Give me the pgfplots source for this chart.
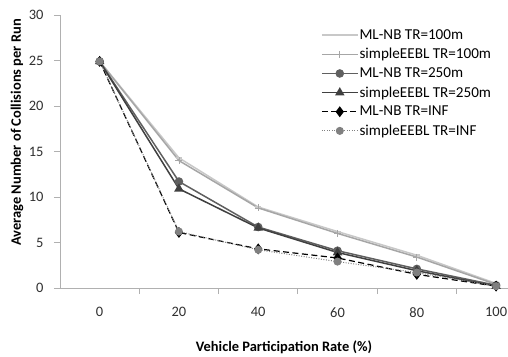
\documentclass[border=0pt]{standalone}
\usepackage{pgfplots}
\pgfplotsset{compat=1.18}
\usepackage{fontspec}
\setmainfont{Carlito}
\definecolor{cA}{HTML}{C8C8C8}
\definecolor{cB}{HTML}{A6A6A6}
\definecolor{cC}{HTML}{606060}
\definecolor{cD}{HTML}{404040}
\definecolor{cF}{HTML}{808080}
\definecolor{axc}{HTML}{B0B0B0}
\definecolor{txt}{HTML}{303030}
\begin{document}
\begin{tikzpicture}[x=1bp,y=1bp]
\begin{axis}[
  scale only axis,
  width=448bp, height=273bp,
  xmin=-0.5, xmax=5.15, ymin=0, ymax=30,
  axis x line=bottom, axis y line=left,
  axis line style={draw=axc, line width=0.8bp, -},
  xtick={0,1,2,3,4,5},
  xticklabels={0,20,40,60,80,100},
  minor xtick={0.5,1.5,2.5,3.5,4.5},
  major x tick style={draw=none},
  minor x tick style={draw=axc, line width=0.8bp},
  minor tick length=6bp,
  ytick={0,5,10,15,20,25,30},
  major y tick style={draw=axc, line width=0.8bp},
  major tick length=6bp,
  tick align=outside,
  font=\fontsize{14.5}{16}\selectfont,
  ticklabel style={text=txt, font=\fontsize{14.5}{16}\selectfont},
  /pgf/number format/assume math mode=true,
  xticklabel style={yshift=-10bp},
  yticklabel style={xshift=-7bp},
  xlabel={\bfseries Vehicle Participation Rate (\%)},
  ylabel={\bfseries Average Number of Collisions per Run},
  xlabel style={at={(rel axis cs:0.5,0)}, anchor=center, yshift=-59bp, text=black},
  ylabel style={at={(rel axis cs:0,0.57)}, anchor=center, yshift=43bp, text=black},
  legend style={draw=none, fill=none, at={(rel axis cs:0.58,0.955)}, anchor=north west,
    font=\fontsize{15.2}{16}\selectfont, row sep=5.5bp, inner sep=1bp,
    nodes={inner sep=1bp, xshift=4bp}},
  legend cell align=left,
  legend image code/.code={\draw[mark repeat=2,mark phase=2] plot coordinates {(0bp,0bp) (18bp,0bp) (36bp,0bp)};},
  clip=false,
]
\addplot[cA, line width=1.5bp, mark=-, mark size=3bp] coordinates {(0,24.9) (1,14.3) (2,8.9) (3,6.2) (4,3.6) (5,0.5)};
\addlegendentry{ML-NB TR=100m}
\addplot[cB, line width=1.5bp, mark=+, mark size=3.5bp, mark options={line width=0.8bp}] coordinates {(0,24.9) (1,14.0) (2,8.8) (3,6.0) (4,3.4) (5,0.4)};
\addlegendentry{simpleEEBL TR=100m}
\addplot[cC, line width=1.5bp, mark=*, mark size=3.5bp] coordinates {(0,24.9) (1,11.7) (2,6.7) (3,4.1) (4,2.1) (5,0.3)};
\addlegendentry{ML-NB TR=250m}
\addplot[cD, line width=1.5bp, mark=triangle*, mark size=4bp] coordinates {(0,24.9) (1,10.9) (2,6.6) (3,3.9) (4,1.9) (5,0.2)};
\addlegendentry{simpleEEBL TR=250m}
\addplot[black, line width=1.2bp, dash pattern=on 6bp off 3.5bp, mark=diamond*, mark size=4.5bp, mark options={solid}] coordinates {(0,24.9) (1,6.1) (2,4.3) (3,3.3) (4,1.5) (5,0.2)};
\addlegendentry{ML-NB TR=INF}
\addplot[cF, line width=1bp, dash pattern=on 1bp off 1.5bp, mark=*, mark size=3.5bp, mark options={solid}] coordinates {(0,24.9) (1,6.2) (2,4.2) (3,2.9) (4,1.7) (5,0.2)};
\addlegendentry{simpleEEBL TR=INF}
\end{axis}
\pgfresetboundingbox
\path (current axis.south west) ++(-60bp,-69bp) rectangle ++(508bp,357bp);
\end{tikzpicture}
\end{document}
